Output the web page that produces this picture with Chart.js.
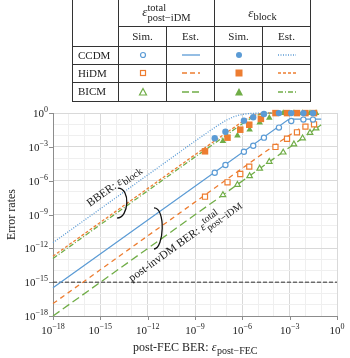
<!DOCTYPE html>
<html>
<head>
<meta charset="utf-8">
<script src="https://cdn.jsdelivr.net/npm/chart.js@4.4.0/dist/chart.umd.min.js"></script>
<style>
  body { margin: 0; background: #fff; }
  #wrap { position: relative; width: 350px; height: 358px; overflow: hidden; }
  #chart { position: absolute; left: 0; top: 0; }
  #legend {
    position: absolute; left: 72px; top: 0; width: 239px;
    border-collapse: collapse; table-layout: fixed;
    font: 11px 'Liberation Serif', 'DejaVu Serif', serif; color: #222;
  }
  #legend td { border: 1px solid #333; padding: 0; text-align: center; vertical-align: middle; line-height: 1; }
  #legend tr.top td { border-top: none; }
  #legend td.lab { text-align: left; padding-left: 5px; }
  #legend svg { display: block; margin: 0 auto; }
  .eps { font-style: italic; font-size: 13px; }
  .stack { display: inline-block; vertical-align: middle; text-align: left; font-size: 10.5px; line-height: 10px; }
  .sub { font-size: 10.5px; position: relative; top: 3px; }
</style>
</head>
<body>
<div id="wrap">
  <canvas id="chart" width="350" height="358"></canvas>
  <table id="legend">
    <colgroup><col style="width:46px"><col style="width:48px"><col style="width:48px"><col style="width:48px"><col style="width:48px"></colgroup>
    <tr class="top" style="height:26px">
      <td rowspan="2"></td>
      <td colspan="2"><span class="eps">ε</span><span class="stack">total<br>post−iDM</span></td>
      <td colspan="2"><span class="eps">ε</span><span class="sub">block</span></td>
    </tr>
    <tr style="height:20px"><td>Sim.</td><td>Est.</td><td>Sim.</td><td>Est.</td></tr>
    <tr style="height:18px">
      <td class="lab">CCDM</td>
      <td><svg width="12" height="12"><circle cx="6" cy="6" r="2.5" fill="#fff" stroke="#5B9BD5" stroke-width="1.2"/></svg></td>
      <td><svg width="24" height="6"><line x1="3" y1="3" x2="21" y2="3" stroke="#5B9BD5" stroke-width="1.3"/></svg></td>
      <td><svg width="12" height="12"><circle cx="6" cy="6" r="3" fill="#5B9BD5"/></svg></td>
      <td><svg width="24" height="6"><line x1="3" y1="3" x2="21" y2="3" stroke="#5B9BD5" stroke-width="1.3" stroke-dasharray="1 1.5"/></svg></td>
    </tr>
    <tr style="height:18px">
      <td class="lab">HiDM</td>
      <td><svg width="12" height="12"><rect x="3.5" y="3.5" width="5" height="5" fill="#fff" stroke="#ED7D31" stroke-width="1.2"/></svg></td>
      <td><svg width="24" height="6"><line x1="3" y1="3" x2="21" y2="3" stroke="#ED7D31" stroke-width="1.3" stroke-dasharray="5 3"/></svg></td>
      <td><svg width="12" height="12"><rect x="2.5" y="2.5" width="7" height="7" fill="#ED7D31"/></svg></td>
      <td><svg width="24" height="6"><line x1="3" y1="3" x2="21" y2="3" stroke="#ED7D31" stroke-width="1.3" stroke-dasharray="3 2"/></svg></td>
    </tr>
    <tr style="height:19px">
      <td class="lab">BICM</td>
      <td><svg width="12" height="12"><polygon points="6,2.5 9.5,9 2.5,9" fill="#fff" stroke="#70AD47" stroke-width="1.2"/></svg></td>
      <td><svg width="24" height="6"><line x1="3" y1="3" x2="21" y2="3" stroke="#70AD47" stroke-width="1.3" stroke-dasharray="7 3"/></svg></td>
      <td><svg width="12" height="12"><polygon points="6,2 10,9.5 2,9.5" fill="#70AD47"/></svg></td>
      <td><svg width="24" height="6"><line x1="3" y1="3" x2="21" y2="3" stroke="#70AD47" stroke-width="1.3" stroke-dasharray="5 2 1 2"/></svg></td>
    </tr>
  </table>
</div>
<script>
// simulated points (Sim.)
const ccdmSimX      = [1.78e-8, 8.5e-8, 1.26e-6, 4.9e-6, 2.34e-5, 2.09e-4, 1.26e-3, 7.4e-3, 3.0e-2];
const ccdmPostSim   = [5.1e-6, 2.45e-5, 3.7e-4, 1.26e-3, 6.5e-3, 5.1e-2, 0.195, 0.26, 0.26];
const ccdmBlockSim  = [5.8e-3, 2.2e-2, 0.21, 0.42, 0.81, 0.98, 0.98, 0.98, 0.98];

const hidmPostX     = [4.3e-9, 1.15e-7, 7.4e-7, 2.75e-6, 1.26e-4, 6.8e-4, 2.9e-3, 1.0e-2, 3.5e-2];
const hidmPostSim   = [3.8e-8, 7.2e-7, 3.9e-6, 1.74e-5, 9.8e-4, 5.2e-3, 1.95e-2, 6.2e-2, 0.1];
const hidmBlockX    = [4.3e-9, 1.15e-7, 7.4e-7, 2.75e-6, 1.5e-5, 1.26e-4, 6.8e-4, 2.9e-3, 1.0e-2, 3.5e-2];
const hidmBlockSim  = [4.0e-4, 6.5e-3, 3.3e-2, 9.1e-2, 0.3, 0.98, 0.98, 0.98, 0.98, 0.98];

const bicmSimX      = [5.9e-8, 4.9e-7, 2.9e-6, 1.26e-5, 5.1e-5, 3.9e-4, 1.86e-3, 6.6e-3, 1.95e-2, 4.7e-2];
const bicmPostSim   = [5.4e-8, 4.4e-7, 2.6e-6, 1.2e-5, 4.8e-5, 3.2e-4, 1.7e-3, 5.8e-3, 1.78e-2, 4.4e-2];
const bicmBlockSim  = [3.3e-3, 9.8e-3, 3.3e-2, 0.14, 0.38, 0.98, 0.98, 0.98, 0.98, 0.98];

// estimated curves (Est.)
const ccdmPostEstX  = [1e-18, 7.9e-4, 1.6e-3, 0.1];
const ccdmPostEstY  = [3.2e-16, 0.25, 0.29, 0.29];
const hidmPostEstX  = [1e-18, 1e-4, 1e-3, 3.2e-3, 1e-2, 3.2e-2, 7e-2];
const hidmPostEstY  = [1.26e-17, 1.26e-3, 1.1e-2, 3.2e-2, 7.9e-2, 0.16, 0.22];
const bicmPostEstX  = [1e-18, 0.1];
const bicmPostEstY  = [1e-18, 0.09];

const ccdmBlockEstX = [1e-18, 1e-12, 1e-10, 1e-9, 1e-8, 3.2e-8, 1e-7, 3.2e-7, 1e-6, 3.2e-6, 1e-5, 1e-4, 6e-2];
const ccdmBlockEstY = [3.2e-12, 3.2e-6, 3.2e-4, 3.2e-3, 3.0e-2, 8.9e-2, 0.24, 0.5, 0.76, 0.91, 0.97, 0.98, 0.98];
const blockEstX     = [1e-18, 1e-9, 1e-8, 1e-7, 3.2e-7, 1e-6, 3.2e-6, 1e-5, 3.2e-5, 1e-4, 6e-2];
const hidmBlockEstY = [2e-13, 2e-4, 1.9e-3, 1.8e-2, 5.6e-2, 0.17, 0.44, 0.83, 0.97, 0.98, 0.98];
const bicmBlockEstY = [1.26e-13, 1.26e-4, 1.2e-3, 1.15e-2, 3.6e-2, 0.11, 0.32, 0.68, 0.95, 0.98, 0.98];

const thresholdX = [1e-18, 1];
const thresholdY = [1e-15, 1e-15];

const decadeTicks = [1e-18, 1e-17, 1e-16, 1e-15, 1e-14, 1e-13, 1e-12, 1e-11, 1e-10, 1e-9,
                     1e-8, 1e-7, 1e-6, 1e-5, 1e-4, 1e-3, 1e-2, 1e-1, 1];
const majorExponents = [-18, -15, -12, -9, -6, -3, 0];

// annotation anchors (data coordinates)
const bberLabelAt = [2.2e-16, 4.7e-9];
const postLabelAt = [9.8e-14, 1.05e-15];
const bberBrace = [[2.0e-14, 1.8e-7], [5.6e-14, 1.05e-8], [1.8e-14, 6.0e-10]];
const postBrace = [[3.9e-12, 3.1e-9], [9.3e-12, 6.3e-11], [3.9e-12, 1.07e-12]];

const blue = '#5B9BD5', orange = '#ED7D31', green = '#70AD47';
const axisColor = '#8c8c8c';
const serif = "'Liberation Serif', 'DejaVu Serif', serif";

function pts(xs, ys) {
    return xs.map((v, i) => ({ x: v, y: ys[i] }));
}

function marker(xs, ys, style, color, filled, r) {
    return {
        data: pts(xs, ys), showLine: false, pointStyle: style, pointRadius: r, pointHoverRadius: r,
        borderColor: color, backgroundColor: filled ? color : '#fff',
        pointBorderWidth: filled ? 0 : 1.2, order: 1, clip: false
    };
}

function curve(xs, ys, color, dash, width) {
    return {
        data: pts(xs, ys), showLine: true, pointRadius: 0, borderColor: color,
        borderDash: dash, borderWidth: width || 1.3, order: 2, clip: false
    };
}

const decorations = {
    id: 'decorations',
    afterDraw(chart) {
        const { ctx, chartArea: a, scales: { x, y } } = chart;
        ctx.save();

        // tick marks
        ctx.strokeStyle = axisColor;
        ctx.lineWidth = 1;
        ctx.beginPath();
        majorExponents.forEach(e => {
            const px = Math.round(x.getPixelForValue(10 ** e)) + 0.5;
            ctx.moveTo(px, a.bottom); ctx.lineTo(px, a.bottom + 4);
            const py = Math.round(y.getPixelForValue(10 ** e)) + 0.5;
            ctx.moveTo(a.left - 4, py); ctx.lineTo(a.left, py);
        });
        ctx.stroke();

        // tick labels 10^n
        ctx.fillStyle = '#222';
        ctx.textBaseline = 'alphabetic';
        ctx.textAlign = 'left';
        majorExponents.forEach(e => {
            const sup = (e < 0 ? '−' : '') + Math.abs(e);
            ctx.font = '11px ' + serif;
            const w1 = ctx.measureText('10').width;
            ctx.font = '8px ' + serif;
            const w2 = ctx.measureText(sup).width;

            const px = x.getPixelForValue(10 ** e);
            let sx = px - (w1 + w2) / 2;
            ctx.font = '11px ' + serif;
            ctx.fillText('10', sx, a.bottom + 18);
            ctx.font = '8px ' + serif;
            ctx.fillText(sup, sx + w1, a.bottom + 13);

            const py = y.getPixelForValue(10 ** e);
            sx = a.left - 5 - w1 - w2;
            ctx.font = '11px ' + serif;
            ctx.fillText('10', sx, py + 4);
            ctx.font = '8px ' + serif;
            ctx.fillText(sup, sx + w1, py - 1);
        });

        // axis titles
        ctx.font = '12px ' + serif;
        const t1 = 'post-FEC BER: ';
        ctx.font = '12px ' + serif;
        const w1 = ctx.measureText(t1).width;
        ctx.font = 'italic 12px ' + serif;
        const w2 = ctx.measureText('ε').width;
        ctx.font = '10px ' + serif;
        const w3 = ctx.measureText('post−FEC').width;
        let sx = (a.left + a.right) / 2 - (w1 + w2 + w3) / 2;
        ctx.font = '12px ' + serif;
        ctx.fillText(t1, sx, a.bottom + 35);
        ctx.font = 'italic 12px ' + serif;
        ctx.fillText('ε', sx + w1, a.bottom + 35);
        ctx.font = '10px ' + serif;
        ctx.fillText('post−FEC', sx + w1 + w2 + 0.5, a.bottom + 38);

        ctx.save();
        ctx.translate(15, (a.top + a.bottom) / 2);
        ctx.rotate(-Math.PI / 2);
        ctx.textAlign = 'center';
        ctx.font = '12px ' + serif;
        ctx.fillText('Error rates', 0, 0);
        ctx.restore();

        // annotations, rotated along the slope-one lines
        const dx = x.getPixelForValue(1e-9) - x.getPixelForValue(1e-10);
        const dy = y.getPixelForValue(1e-9) - y.getPixelForValue(1e-10);
        const angle = Math.atan2(dy, dx);

        ctx.save();
        ctx.translate(x.getPixelForValue(bberLabelAt[0]), y.getPixelForValue(bberLabelAt[1]));
        ctx.rotate(angle);
        ctx.font = '11.5px ' + serif;
        ctx.fillText('BBER: ', 0, 0);
        let w = ctx.measureText('BBER: ').width;
        ctx.font = 'italic 11.5px ' + serif;
        ctx.fillText('ε', w, 0);
        w += ctx.measureText('ε').width;
        ctx.font = '10px ' + serif;
        ctx.fillText('block', w + 0.5, 3);
        ctx.restore();

        ctx.save();
        ctx.translate(x.getPixelForValue(postLabelAt[0]), y.getPixelForValue(postLabelAt[1]));
        ctx.rotate(angle);
        ctx.font = '11.5px ' + serif;
        ctx.fillText('post-invDM BER: ', 0, 0);
        w = ctx.measureText('post-invDM BER: ').width;
        ctx.font = 'italic 11.5px ' + serif;
        ctx.fillText('ε', w, 0);
        w += ctx.measureText('ε').width;
        ctx.font = '10px ' + serif;
        ctx.fillText('total', w + 0.5, -5);
        ctx.fillText('post−iDM', w + 0.5, 4);
        ctx.restore();

        // braces
        ctx.strokeStyle = '#111';
        ctx.lineWidth = 1.3;
        [bberBrace, postBrace].forEach(b => {
            const p = b.map(v => ({ x: x.getPixelForValue(v[0]), y: y.getPixelForValue(v[1]) }));
            ctx.beginPath();
            ctx.moveTo(p[0].x - 3, p[0].y - 1);
            ctx.bezierCurveTo(p[1].x + 3, p[0].y - 1, p[1].x + 1, p[2].y + 1, p[2].x - 3, p[2].y + 1);
            ctx.stroke();
        });

        ctx.restore();
    }
};

const gridColor = c => {
    const e = Math.round(Math.log10(c.tick.value));
    return e % 3 === 0 ? '#d9d9d9' : '#efefef';
};

new Chart(document.getElementById('chart'), {
    type: 'scatter',
    data: {
        datasets: [
            marker(ccdmSimX, ccdmPostSim, 'circle', blue, false, 2.6),
            marker(hidmPostX, hidmPostSim, 'rect', orange, false, 3.6),
            marker(bicmSimX, bicmPostSim, 'triangle', green, false, 3.2),
            marker(ccdmSimX, ccdmBlockSim, 'circle', blue, true, 3.2),
            marker(hidmBlockX, hidmBlockSim, 'rect', orange, true, 4.6),
            marker(bicmSimX, bicmBlockSim, 'triangle', green, true, 3.8),
            curve(ccdmPostEstX, ccdmPostEstY, blue, []),
            curve(hidmPostEstX, hidmPostEstY, orange, [5, 4]),
            curve(bicmPostEstX, bicmPostEstY, green, [8, 4]),
            curve(ccdmBlockEstX, ccdmBlockEstY, blue, [1, 1.5]),
            curve(blockEstX, hidmBlockEstY, orange, [3, 2]),
            curve(blockEstX, bicmBlockEstY, green, [5, 2, 1, 2]),
            curve(thresholdX, thresholdY, '#333', [4, 2], 1)
        ]
    },
    options: {
        responsive: false,
        animation: false,
        layout: { padding: { left: 53, top: 113, right: 13, bottom: 42 } },
        plugins: { legend: { display: false }, tooltip: { enabled: false } },
        scales: {
            x: {
                type: 'logarithmic', min: 1e-18, max: 1,
                afterBuildTicks: s => { s.ticks = decadeTicks.map(v => ({ value: v })); },
                ticks: { display: false },
                grid: { color: gridColor, drawTicks: false },
                border: { color: axisColor, width: 1 }
            },
            y: {
                type: 'logarithmic', min: 1e-18, max: 1,
                afterBuildTicks: s => { s.ticks = decadeTicks.map(v => ({ value: v })); },
                ticks: { display: false },
                grid: { color: gridColor, drawTicks: false },
                border: { color: axisColor, width: 1 }
            }
        }
    },
    plugins: [decorations]
});
</script>
</body>
</html>
